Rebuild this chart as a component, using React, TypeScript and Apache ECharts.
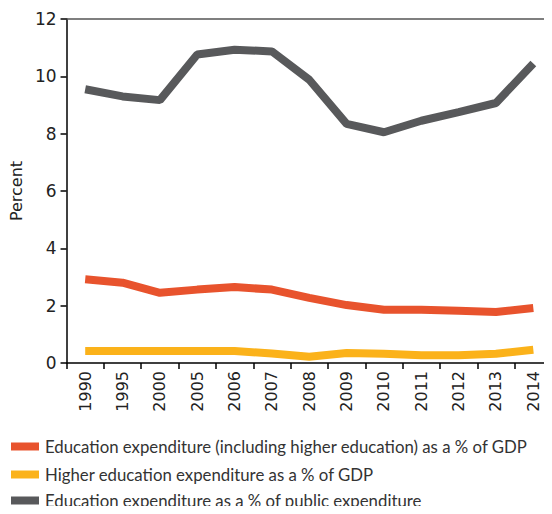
import React, { useEffect, useRef } from "react";
import * as echarts from "echarts";

const years = ["1990","1995","2000","2005","2006","2007","2008","2009","2010","2011","2012","2013","2014"];
const eduGdp = [2.92, 2.8, 2.45, 2.56, 2.65, 2.56, 2.27, 2.02, 1.86, 1.86, 1.82, 1.78, 1.92];
const higherGdp = [0.42, 0.42, 0.42, 0.42, 0.42, 0.33, 0.22, 0.35, 0.32, 0.27, 0.27, 0.32, 0.46];
const eduPublic = [9.55, 9.3, 9.17, 10.76, 10.93, 10.87, 9.88, 8.34, 8.05, 8.45, 8.75, 9.07, 10.45];
const yTicks = [0, 2, 4, 6, 8, 10, 12];

const names = [
  "Education expenditure (including higher education) as a % of GDP",
  "Higher education expenditure as a % of GDP",
  "Education expenditure as a % of public expenditure",
];
const colors = ["#e8532d", "#fbb21a", "#58595b"];
const legendTops = [438, 466, 492];

export default function App() {
  const ref = useRef<HTMLDivElement>(null);
  useEffect(() => {
    const chart = echarts.init(ref.current!, null, { renderer: "svg" });
    const mk = (name: string, data: number[], color: string) => ({
      name,
      type: "line",
      data,
      symbol: "none",
      lineStyle: { width: 8, color },
      itemStyle: { color },
      z: 3,
    });
    chart.setOption({
      animation: false,
      textStyle: { fontFamily: "Lato" },
      grid: { left: 65, top: 19, width: 490, height: 344, containLabel: false },
      legend: names.map((n, i) => ({
        orient: "horizontal",
        left: 11,
        top: legendTops[i],
        padding: 0,
        itemWidth: 28,
        itemHeight: 8,
        itemGap: 7,
        icon: "rect",
        textStyle: { fontFamily: "Lato", fontSize: 16.8, color: "#333", padding: [0, 0, 0, 1] },
        data: [n],
      })),
      xAxis: [
        {
          type: "category",
          data: years,
          boundaryGap: true,
          axisLine: { lineStyle: { color: "#000", width: 1.5 } },
          axisTick: { show: true, length: 6, lineStyle: { color: "#000", width: 1.5 } },
          axisLabel: {
            rotate: 90,
            margin: 8,
            fontSize: 16,
            color: "#222",
            fontFamily: "DejaVu Sans",
          },
        },
        {
          type: "category",
          data: years,
          position: "top",
          axisLine: { show: true, lineStyle: { color: "#555", width: 1.5 } },
          axisTick: { show: false },
          axisLabel: { show: false },
        },
      ],
      yAxis: {
        type: "value",
        min: 0,
        max: 12,
        interval: 2,
        name: "Percent",
        nameLocation: "middle",
        nameGap: 42,
        nameTextStyle: { fontSize: 16, color: "#222", fontFamily: "DejaVu Sans" },
        axisLine: { show: true, lineStyle: { color: "#000", width: 1.5 } },
        axisTick: { show: true, length: 6, lineStyle: { color: "#000", width: 1.5 } },
        axisLabel: {
          fontSize: 17,
          color: "#222",
          margin: 10,
          fontFamily: "DejaVu Sans",
          formatter: (v: number) => (yTicks.includes(v) ? String(v) : ""),
        },
        splitLine: { show: false },
      },
      series: [
        mk(names[0], eduGdp, colors[0]),
        mk(names[1], higherGdp, colors[1]),
        mk(names[2], eduPublic, colors[2]),
      ],
    });
    return () => chart.dispose();
  }, []);
  return <div ref={ref} style={{ width: 552, height: 514, margin: -8 }} />;
}
